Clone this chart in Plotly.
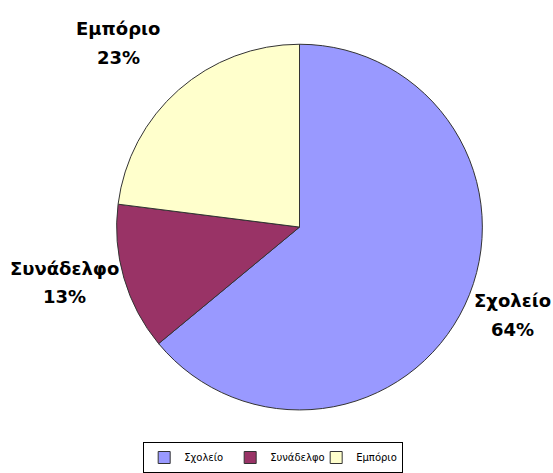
import plotly.graph_objects as go

# Δεδομένα
labels = ["Σχολείο", "Συνάδελφο", "Εμπόριο"]
values = [64, 13, 23]
colors = ["#9999FF", "#993366", "#FFFFCC"]

# θέσεις ετικετών (px από πάνω αριστερά): κέντρο x, y πρώτης γραμμής
W, H = 553, 473
label_pos = [(512, 306), (64, 273), (118, 29)]
line_gap = 29

fig = go.Figure(
    data=[
        go.Pie(
            labels=labels,
            values=values,
            sort=False,
            direction="clockwise",
            rotation=0,
            marker=dict(colors=colors, line=dict(color="#333333", width=1)),
            textinfo="none",
            hoverinfo="label+percent",
            domain=dict(x=[113.5 / W, 485.5 / W], y=[1 - 417 / H, 1 - 45 / H]),
            showlegend=True,
        )
    ]
)

total = sum(values)
lab_font = dict(family="DejaVu Sans", size=18, color="black", weight="bold")
for lab, val, (px, py) in zip(labels, values, label_pos):
    pct = f"{round(100 * val / total)}%"
    for i, txt in enumerate([lab, pct]):
        fig.add_annotation(
            text=txt,
            x=px / W,
            y=1 - (py + i * line_gap) / H,
            xref="paper",
            yref="paper",
            xanchor="center",
            yanchor="middle",
            showarrow=False,
            font=lab_font,
        )

fig.update_layout(
    width=W,
    height=H,
    margin=dict(l=0, r=0, t=0, b=0),
    paper_bgcolor="white",
    plot_bgcolor="white",
    legend=dict(
        orientation="h",
        x=0.494,
        xanchor="center",
        y=1 - 450 / H,
        yanchor="top",
        bordercolor="black",
        borderwidth=1,
        font=dict(family="DejaVu Sans", size=10, color="black"),
        entrywidth=41,
        entrywidthmode="pixels",
        tracegroupgap=0,
    ),
)

# χωρίς περιθώριο σελίδας, για να ξεκινά το γράφημα στη γωνία
fig.write_html(
    "out.html",
    config={"displayModeBar": False},
    post_script="document.body.style.margin='0px';",
)
